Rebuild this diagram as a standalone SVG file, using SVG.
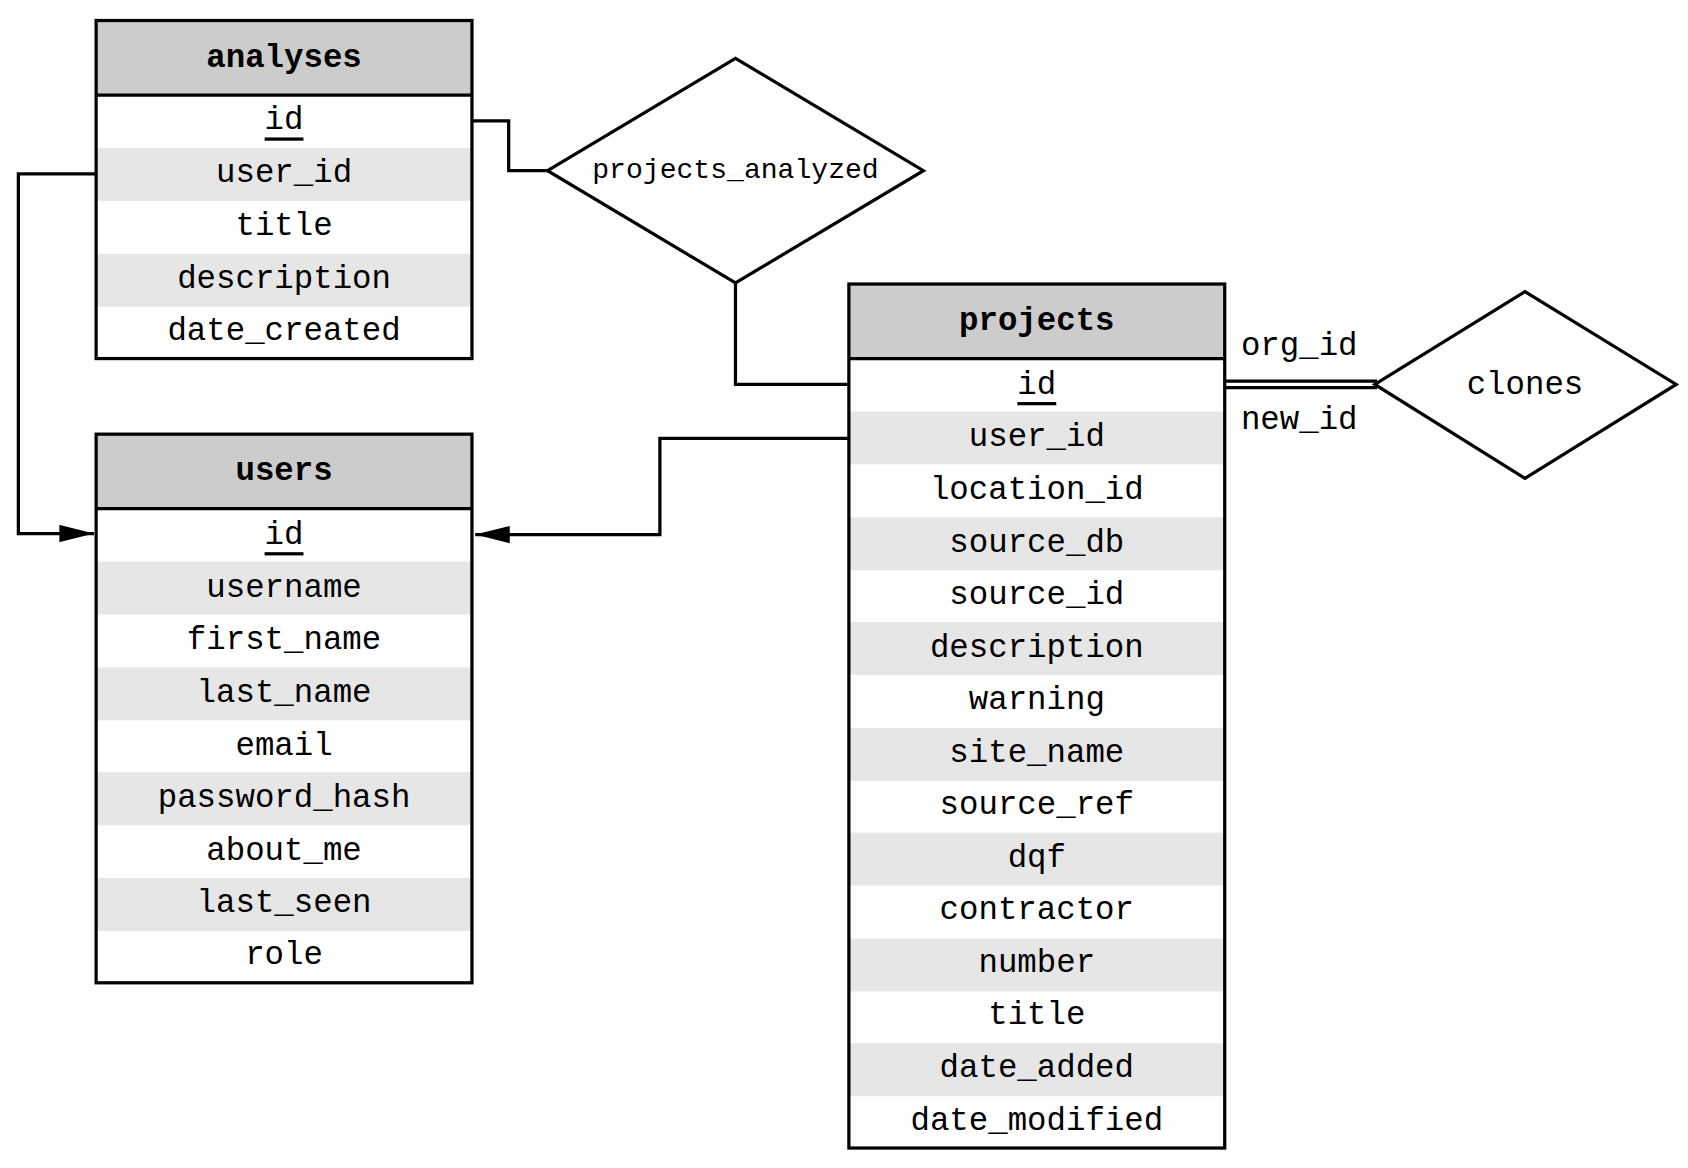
<svg xmlns="http://www.w3.org/2000/svg" width="1688" height="1168" viewBox="0 0 1688 1168">
<style>
text{font-family:"Liberation Mono","DejaVu Sans Mono",monospace;font-size:30px;text-anchor:middle;dominant-baseline:central;fill:#000}
.h{fill:#ccc}.g{fill:#e6e6e6}.b{fill:none;stroke:#000;stroke-width:3}
.hd{font-weight:bold}
.c{fill:none;stroke:#000;stroke-width:3}
</style>
<defs><marker id="a" markerWidth="12" markerHeight="10" refX="11" refY="5" orient="auto" markerUnits="userSpaceOnUse"><path d="M0,0L12,5L0,10z"/></marker>
<marker id="ar" viewBox="0 0 32 16" markerWidth="32" markerHeight="16" refX="32" refY="8" orient="auto" markerUnits="userSpaceOnUse"><path d="M0,0L32,8L0,16z"/></marker></defs>
<rect width="1688" height="1168" fill="#fff"/>
<g transform="scale(1.08)">
<g id="analyses">
<rect class="h" x="89" y="19" width="348" height="69"/>
<rect class="g" x="89" y="137" width="348" height="49"/>
<rect class="g" x="89" y="235" width="348" height="49"/>
<rect class="b" x="89" y="19" width="348" height="313"/><line class="b" x1="89" y1="88" x2="437" y2="88"/>
<text class="hd" x="263" y="54">analyses</text>
<text x="263" y="112" text-decoration="underline">id</text>
<text x="263" y="161">user_id</text><text x="263" y="210">title</text><text x="263" y="259">description</text><text x="263" y="307">date_created</text>
</g>
<g id="users">
<rect class="h" x="89" y="402" width="348" height="69"/>
<rect class="g" x="89" y="520" width="348" height="49"/><rect class="g" x="89" y="618" width="348" height="49"/><rect class="g" x="89" y="715" width="348" height="49"/><rect class="g" x="89" y="813" width="348" height="49"/>
<rect class="b" x="89" y="402" width="348" height="508"/><line class="b" x1="89" y1="471" x2="437" y2="471"/>
<text class="hd" x="263" y="437">users</text>
<text x="263" y="496" text-decoration="underline">id</text>
<text x="263" y="545">username</text><text x="263" y="593">first_name</text><text x="263" y="642">last_name</text><text x="263" y="691">email</text><text x="263" y="739">password_hash</text><text x="263" y="788">about_me</text><text x="263" y="837">last_seen</text><text x="263" y="885">role</text>
</g>
<g id="projects">
<rect class="h" x="786" y="263" width="348" height="69"/>
<rect class="g" x="786" y="381" width="348" height="49"/><rect class="g" x="786" y="479" width="348" height="49"/><rect class="g" x="786" y="576" width="348" height="49"/><rect class="g" x="786" y="674" width="348" height="49"/><rect class="g" x="786" y="771" width="348" height="49"/><rect class="g" x="786" y="869" width="348" height="49"/><rect class="g" x="786" y="966" width="348" height="49"/>
<rect class="b" x="786" y="263" width="348" height="800"/><line class="b" x1="786" y1="332" x2="1134" y2="332"/>
<text class="hd" x="960" y="298">projects</text>
<text x="960" y="357" text-decoration="underline">id</text>
<text x="960" y="405">user_id</text><text x="960" y="454">location_id</text><text x="960" y="503">source_db</text><text x="960" y="551">source_id</text><text x="960" y="600">description</text><text x="960" y="649">warning</text><text x="960" y="698">site_name</text><text x="960" y="746">source_ref</text><text x="960" y="795">dqf</text><text x="960" y="843">contractor</text><text x="960" y="892">number</text><text x="960" y="940">title</text><text x="960" y="989">date_added</text><text x="960" y="1038">date_modified</text>
</g>
<g id="projects_analyzed">
<polygon class="b" fill="#fff" points="507,158 681,54 855,158 681,262"/>
<text x="681" y="158" style="font-size:26px">projects_analyzed</text>
</g>
<g id="clones">
<polygon class="b" points="1273,356 1412,270 1552,356 1412,443"/>
<text x="1412" y="357">clones</text>
</g>
<g id="connectors">
<polyline class="c" points="437,112 471,112 471,158 507,158"/>
<polyline class="c" points="89,161 17,161 17,494 87,494" marker-end="url(#ar)"/>
<polyline class="c" points="786,406 611,406 611,495 440,495" marker-end="url(#ar)"/>
<polyline class="c" points="786,356 681,356 681,262"/>
<line class="c" x1="1134" y1="353" x2="1275" y2="353"/>
<line class="c" x1="1134" y1="359" x2="1275" y2="359"/>
<text x="1203" y="321">org_id</text>
<text x="1203" y="389">new_id</text>
</g>
</g>
</svg>
